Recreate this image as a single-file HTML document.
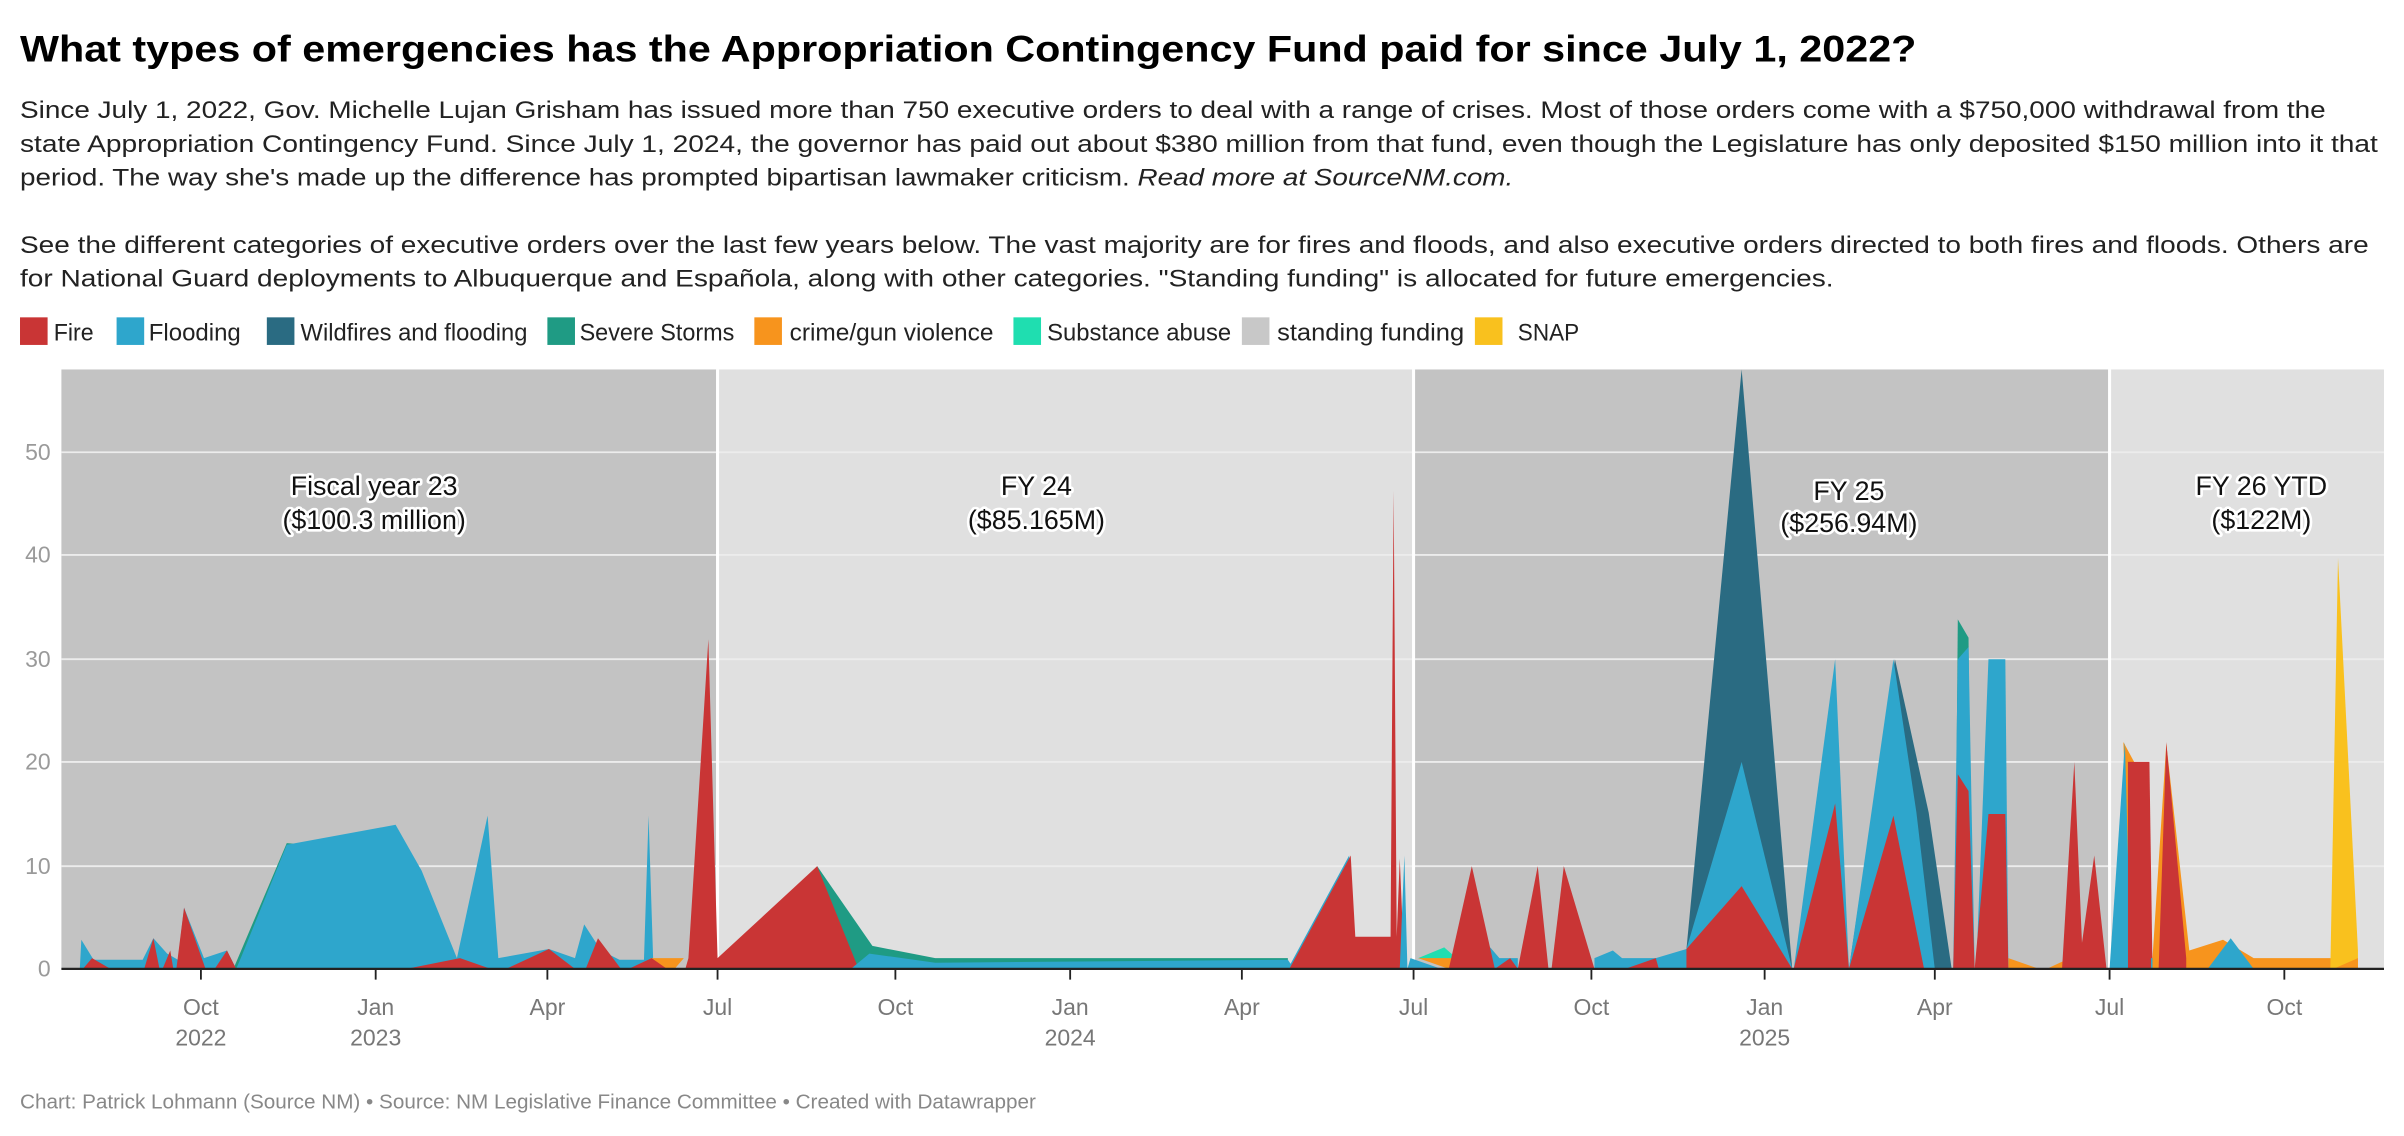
<!DOCTYPE html>
<html><head><meta charset="utf-8"><style>
html,body{margin:0;padding:0;background:#fff;}
svg{display:block;}
text{font-family:"Liberation Sans",sans-serif;}
.d{font-size:15.5px;fill:#222;}
.lg{font-size:15.5px;fill:#222;}
.yt{font-size:15px;fill:#9a9a9a;text-anchor:end;}
.xt{font-size:15px;fill:#777;text-anchor:middle;}
.an{font-size:17.5px;fill:#111;text-anchor:middle;stroke:#fff;stroke-width:3.5px;paint-order:stroke;stroke-linejoin:round;}
</style></head><body>
<svg width="2404" height="1136" viewBox="0 0 1568 741" xmlns="http://www.w3.org/2000/svg">
<text x="13" y="40" font-size="24" font-weight="bold" fill="#000" textLength="1237" lengthAdjust="spacingAndGlyphs">What types of emergencies has the Appropriation Contingency Fund paid for since July 1, 2022?</text>
<text class="d" x="13" y="77" textLength="1504" lengthAdjust="spacingAndGlyphs">Since July 1, 2022, Gov. Michelle Lujan Grisham has issued more than 750 executive orders to deal with a range of crises. Most of those orders come with a $750,000 withdrawal from the</text>
<text class="d" x="13" y="99" textLength="1538" lengthAdjust="spacingAndGlyphs">state Appropriation Contingency Fund. Since July 1, 2024, the governor has paid out about $380 million from that fund, even though the Legislature has only deposited $150 million into it that</text>
<text class="d" x="13" y="121" textLength="974" lengthAdjust="spacingAndGlyphs">period. The way she's made up the difference has prompted bipartisan lawmaker criticism. <tspan font-style="italic">Read more at SourceNM.com.</tspan></text>
<text class="d" x="13" y="165" textLength="1532" lengthAdjust="spacingAndGlyphs">See the different categories of executive orders over the last few years below. The vast majority are for fires and floods, and also executive orders directed to both fires and floods. Others are</text>
<text class="d" x="13" y="187" textLength="1183" lengthAdjust="spacingAndGlyphs">for National Guard deployments to Albuquerque and Española, along with other categories. "Standing funding" is allocated for future emergencies.</text>
<g>
<rect x="13" y="207" width="18" height="18" fill="#c93535"/><text class="lg" x="35" y="222" textLength="26" lengthAdjust="spacingAndGlyphs">Fire</text>
<rect x="76" y="207" width="18" height="18" fill="#2ea6cc"/><text class="lg" x="97" y="222" textLength="60" lengthAdjust="spacingAndGlyphs">Flooding</text>
<rect x="174" y="207" width="18" height="18" fill="#2a6b82"/><text class="lg" x="196" y="222" textLength="148" lengthAdjust="spacingAndGlyphs">Wildfires and flooding</text>
<rect x="357" y="207" width="18" height="18" fill="#1f9b84"/><text class="lg" x="378" y="222" textLength="101" lengthAdjust="spacingAndGlyphs">Severe Storms</text>
<rect x="492" y="207" width="18" height="18" fill="#f7941d"/><text class="lg" x="515" y="222" textLength="133" lengthAdjust="spacingAndGlyphs">crime/gun violence</text>
<rect x="661" y="207" width="18" height="18" fill="#1fdeb0"/><text class="lg" x="683" y="222" textLength="120" lengthAdjust="spacingAndGlyphs">Substance abuse</text>
<rect x="810" y="207" width="18" height="18" fill="#c8c8c8"/><text class="lg" x="833" y="222" textLength="122" lengthAdjust="spacingAndGlyphs">standing funding</text>
<rect x="962" y="207" width="18" height="18" fill="#f9c11e"/><text class="lg" x="990" y="222" textLength="40" lengthAdjust="spacingAndGlyphs">SNAP</text>
</g>
<rect x="40" y="241" width="428" height="391" fill="#c3c3c3"/>
<rect x="468" y="241" width="454" height="391" fill="#e0e0e0"/>
<rect x="922" y="241" width="454" height="391" fill="#c3c3c3"/>
<rect x="1376" y="241" width="179" height="391" fill="#e0e0e0"/>
<g stroke="#ececec" stroke-width="1.2">
<line x1="40" x2="1555" y1="565" y2="565"/><line x1="40" x2="1555" y1="497" y2="497"/>
<line x1="40" x2="1555" y1="430" y2="430"/><line x1="40" x2="1555" y1="362" y2="362"/>
<line x1="40" x2="1555" y1="295" y2="295"/>
</g>
<g stroke="#fff" stroke-width="2"><line x1="468" x2="468" y1="241" y2="632"/><line x1="922" x2="922" y1="241" y2="632"/><line x1="1376" x2="1376" y1="241" y2="632"/></g>
<g class="yt"><text x="33" y="637">0</text><text x="33" y="570">10</text><text x="33" y="502">20</text><text x="33" y="435">30</text><text x="33" y="367">40</text><text x="33" y="300">50</text></g>
<g>
<polygon fill="#1f9b84" points="150,632 153,630 187,550 200,551 160,632"/>
<polygon fill="#2ea6cc" points="52,632 53,613 61,626 93,626 100,612 109,622 116,626 120,592 133,625 148,620 154,632 157,625 187,551 258,538 275,568 298,625 318,532 325,625 358,619 375,625 381,603 392,620 404,626 420,626 423,532 426,626 430,632"/>
<polygon fill="#f7941d" points="424,625 446,625 440,632 430,632"/>
<polygon fill="#c93535" points="54,632 60,625 72,632"/>
<polygon fill="#c93535" points="94,632 100,612 104,632"/>
<polygon fill="#c93535" points="106,632 111,620 113,632"/>
<polygon fill="#c93535" points="115,632 120,592 134,632"/>
<polygon fill="#c93535" points="140,632 148,620 154,632"/>
<polygon fill="#c93535" points="265,632 300,625 320,632"/>
<polygon fill="#c93535" points="330,632 358,619 375,632"/>
<polygon fill="#c93535" points="382,632 390,612 405,632"/>
<polygon fill="#c93535" points="410,632 425,625 435,632"/>
<polygon fill="#c93535" points="447,632 449,625 462,417 468,625 533,565 566,632"/>
<polygon fill="#1f9b84" points="533,565 569,617 610,625 840,625 840,632 560,632"/>
<polygon fill="#2ea6cc" points="555,632 567,622 610,628 840,626 844,632"/>
<polygon fill="#2ea6cc" points="840,632 880,558 884,632"/>
<polygon fill="#c93535" points="841,632 881,558 884,611 907,611 909,320 911,611 913,560 916,632"/>
<polygon fill="#2ea6cc" points="913,632 916,558 918,632"/>
<polygon fill="#2ea6cc" points="918,632 920,625 940,632"/>
<polygon fill="#1fdeb0" points="925,625 942,618 950,625 942,630"/>
<polygon fill="#f7941d" points="925,625 950,625 945,632"/>
<polygon fill="#2ea6cc" points="962,632 972,618 978,625 990,625 990,632"/>
<polygon fill="#f7941d" points="960,600 975,632 970,632"/>
<polygon fill="#c93535" points="945,632 960,565 975,632"/>
<polygon fill="#c93535" points="975,632 985,625 990,632"/>
<polygon fill="#c93535" points="990,632 1003,565 1010,632"/>
<polygon fill="#c93535" points="1012,632 1020,565 1040,632"/>
<polygon fill="#2ea6cc" points="1040,632 1040,625 1052,620 1058,625 1080,625 1100,619 1100,632"/>
<polygon fill="#c93535" points="1060,632 1080,625 1082,632"/>
<polygon fill="#2a6b82" points="1100,632 1100,619 1136,241 1169,632"/>
<polygon fill="#2ea6cc" points="1100,632 1100,619 1136,497 1169,632"/>
<polygon fill="#c93535" points="1100,632 1100,619 1136,578 1169,632"/>
<polygon fill="#2ea6cc" points="1170,632 1197,430 1206,632"/>
<polygon fill="#c93535" points="1170,632 1197,524 1206,632"/>
<polygon fill="#2a6b82" points="1206,632 1236,430 1258,530 1273,632"/>
<polygon fill="#2ea6cc" points="1206,632 1235,430 1250,530 1262,632"/>
<polygon fill="#c93535" points="1206,632 1235,532 1255,632"/>
<polygon fill="#1f9b84" points="1275,632 1277,404 1284,416 1286,632"/>
<polygon fill="#2ea6cc" points="1274,632 1277,430 1284,422 1288,632"/>
<polygon fill="#c93535" points="1274,632 1277,505 1284,516 1288,632"/>
<polygon fill="#2ea6cc" points="1289,632 1297,430 1308,430 1310,632"/>
<polygon fill="#c93535" points="1288,632 1297,531 1308,531 1310,632"/>
<polygon fill="#f7941d" points="1310,625 1330,632 1310,632"/>
<polygon fill="#f7941d" points="1335,632 1350,625 1350,632"/>
<polygon fill="#c93535" points="1345,632 1353,497 1358,615 1366,558 1374,632"/>
<polygon fill="#f7941d" points="1385,484 1392,497 1390,632"/>
<polygon fill="#2ea6cc" points="1376,632 1386,484 1390,632"/>
<polygon fill="#c93535" points="1388,632 1388,497 1402,497 1404,632"/>
<polygon fill="#2ea6cc" points="1403,625 1410,625 1410,632 1403,632"/>
<polygon fill="#f7941d" points="1404,625 1413,485 1428,620 1450,613 1470,625 1520,625 1525,632 1404,632"/>
<polygon fill="#c93535" points="1408,632 1413,484 1426,625 1426,632"/>
<polygon fill="#2ea6cc" points="1440,632 1455,612 1470,632"/>
<polygon fill="#f9c11e" points="1520,632 1525,364 1538,620 1538,632"/>
<polygon fill="#f7941d" points="1522,632 1538,625 1538,632"/>
</g>
<line x1="40" x2="1555" y1="632" y2="632" stroke="#222" stroke-width="1.5"/>
<g stroke="#222" stroke-width="1.2">
<line x1="131" x2="131" y1="632" y2="639"/><line x1="245" x2="245" y1="632" y2="639"/><line x1="357" x2="357" y1="632" y2="639"/><line x1="468" x2="468" y1="632" y2="639"/><line x1="584" x2="584" y1="632" y2="639"/><line x1="698" x2="698" y1="632" y2="639"/><line x1="810" x2="810" y1="632" y2="639"/><line x1="922" x2="922" y1="632" y2="639"/><line x1="1038" x2="1038" y1="632" y2="639"/><line x1="1151" x2="1151" y1="632" y2="639"/><line x1="1262" x2="1262" y1="632" y2="639"/><line x1="1376" x2="1376" y1="632" y2="639"/><line x1="1490" x2="1490" y1="632" y2="639"/>
</g>
<g class="xt">
<text x="131" y="662">Oct</text><text x="131" y="682">2022</text>
<text x="245" y="662">Jan</text><text x="245" y="682">2023</text>
<text x="357" y="662">Apr</text><text x="468" y="662">Jul</text><text x="584" y="662">Oct</text>
<text x="698" y="662">Jan</text><text x="698" y="682">2024</text>
<text x="810" y="662">Apr</text><text x="922" y="662">Jul</text><text x="1038" y="662">Oct</text>
<text x="1151" y="662">Jan</text><text x="1151" y="682">2025</text>
<text x="1262" y="662">Apr</text><text x="1376" y="662">Jul</text><text x="1490" y="662">Oct</text>
</g>
<g class="an">
<text x="244" y="323">Fiscal year 23</text><text x="244" y="345">($100.3 million)</text>
<text x="676" y="323">FY 24</text><text x="676" y="345">($85.165M)</text>
<text x="1206" y="326">FY 25</text><text x="1206" y="347">($256.94M)</text>
<text x="1475" y="323">FY 26 YTD</text><text x="1475" y="345">($122M)</text>
</g>
<text x="13" y="723" font-size="13.5" fill="#888">Chart: Patrick Lohmann (Source NM) • Source: NM Legislative Finance Committee • Created with Datawrapper</text>
</svg>
</body></html>
